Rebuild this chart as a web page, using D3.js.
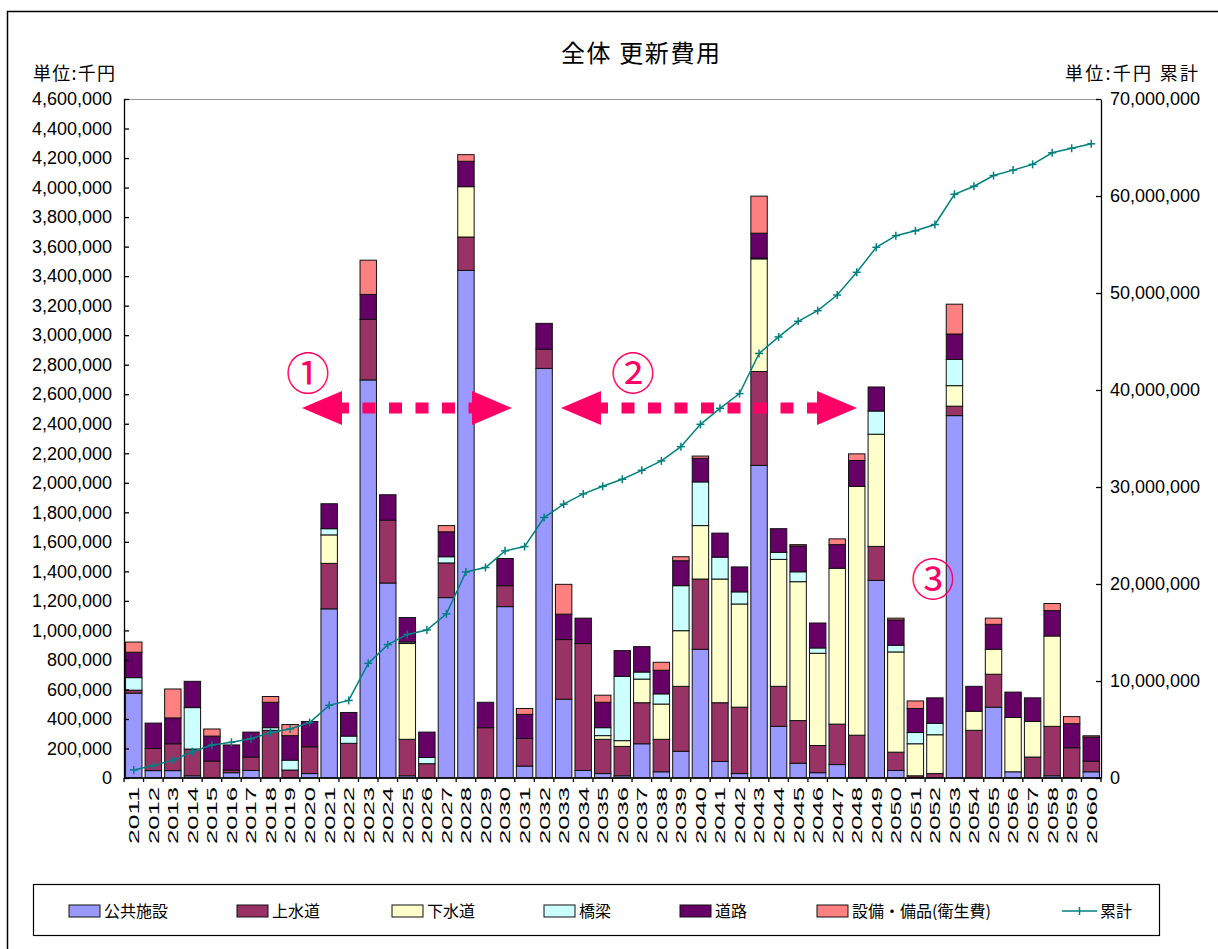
<!DOCTYPE html>
<html lang="ja">
<head>
<meta charset="utf-8">
<script src="https://cdn.jsdelivr.net/npm/d3@7"></script>
<style>
  html, body { margin: 0; padding: 0; background: #fff; }
  svg { display: block; }
  text { font-family: "Liberation Sans", "Noto Sans CJK JP", sans-serif; fill: #000; }
  .jp { font-family: "Noto Sans CJK JP", sans-serif; }
</style>
</head>
<body>
<svg id="chart" width="1218" height="949"></svg>
<script>
// 年度
const years = d3.range(2011, 2061).map(String);

// 分野別 更新費用（千円）
const koukyouShisetsu = [
  575000, 50000, 50000, 15000, 0, 36000, 51000, 0, 0, 30000,
  1146000, 0, 2697000, 1321000, 15000, 0, 1222000, 3439000, 0, 1161000,
  81000, 2775000, 534000, 51000, 30000, 15000, 232000, 42000, 181000, 872000,
  112000, 30000, 2118000, 350000, 100000, 36000, 91000, 0, 1339000, 51000,
  0, 0, 2455000, 0, 480000, 42000, 0, 15000, 0, 42000
];
const jousuidou = [
  20000, 150000, 182000, 181000, 115000, 18000, 91000, 323000, 54000, 181000,
  308000, 235000, 410000, 426000, 247000, 97000, 235000, 226000, 341000, 142000,
  187000, 130000, 404000, 860000, 232000, 199000, 278000, 220000, 440000, 476000,
  398000, 450000, 636000, 271000, 289000, 184000, 274000, 290000, 230000, 124000,
  15000, 30000, 64000, 323000, 223000, 0, 142000, 335000, 205000, 72000
];
const gesuidou = [
  0, 0, 0, 0, 0, 0, 0, 0, 0, 0,
  193000, 0, 0, 0, 649000, 0, 0, 341000, 0, 0,
  0, 0, 0, 0, 25000, 39000, 160000, 239000, 377000, 362000,
  838000, 699000, 763000, 860000, 941000, 625000, 1056000, 1686000, 760000, 679000,
  217000, 263000, 139000, 129000, 169000, 368000, 241000, 612000, 0, 0
];
const kyouryou = [
  85000, 0, 0, 281000, 0, 0, 0, 18000, 67000, 0,
  42000, 49000, 0, 0, 10000, 42000, 42000, 0, 0, 0,
  0, 0, 0, 0, 54000, 435000, 48000, 69000, 305000, 296000,
  148000, 82000, 5000, 48000, 67000, 36000, 0, 0, 157000, 45000,
  76000, 78000, 178000, 0, 0, 0, 0, 0, 0, 0
];
const douro = [
  172000, 172000, 175000, 178000, 169000, 170000, 169000, 172000, 166000, 172000,
  169000, 160000, 169000, 172000, 166000, 172000, 169000, 172000, 172000, 184000,
  163000, 175000, 172000, 172000, 172000, 175000, 172000, 160000, 169000, 160000,
  163000, 169000, 169000, 160000, 175000, 169000, 160000, 175000, 163000, 172000,
  163000, 172000, 172000, 169000, 169000, 172000, 160000, 172000, 163000, 163000
];
const setsubiBihin = [
  69000, 0, 196000, 0, 48000, 0, 0, 39000, 75000, 0,
  0, 0, 232000, 0, 0, 0, 42000, 45000, 0, 0,
  40000, 0, 202000, 0, 48000, 0, 0, 54000, 27000, 15000,
  0, 0, 251000, 0, 9000, 0, 39000, 45000, 0, 12000,
  51000, 0, 202000, 0, 42000, 0, 0, 48000, 48000, 9000
];

// 累計（千円）
const ruikei = [
  830000, 1290000, 1840000, 2710000, 3400000, 3680000, 4050000, 4690000, 5060000, 5720000,
  7490000, 8000000, 11820000, 13750000, 14800000, 15260000, 16920000, 21240000, 21700000, 23420000,
  23860000, 26850000, 28230000, 29290000, 30070000, 30800000, 31720000, 32690000, 34160000, 36460000,
  38110000, 39630000, 43770000, 45470000, 47080000, 48180000, 49790000, 52140000, 54710000, 55910000,
  56410000, 57060000, 60180000, 61010000, 62110000, 62670000, 63260000, 64460000, 64920000, 65380000
];

// 系列名と色
const seriesNames = ["公共施設", "上水道", "下水道", "橋梁", "道路", "設備・備品(衛生費)"];
const seriesColors = ["#9999FF", "#993366", "#FFFFCC", "#CCFFFF", "#660066", "#FF8080"];
const seriesValues = [koukyouShisetsu, jousuidou, gesuidou, kyouryou, douro, setsubiBihin];
const lineName = "累計";
const lineColor = "#008080";

// 軸目盛
const leftTicks = d3.range(0, 4600001, 200000);
const rightTicks = d3.range(0, 70000001, 10000000);

// 注記
const notes = [
  { label: "①", x: 308, y: 371 },
  { label: "②", x: 633, y: 371 },
  { label: "③", x: 933, y: 577 }
];
const arrows = [
  { x1: 302, x2: 512, y: 408 },
  { x1: 561, x2: 857, y: 408 }
];

const svg = d3.select("#chart");
const plot = { left: 124, right: 1101, top: 99, bottom: 778 };

// 外枠
svg.append("rect")
  .attr("x", 7.5).attr("y", 11.5).attr("width", 1300).attr("height", 1000)
  .attr("fill", "none").attr("stroke", "#000").attr("stroke-width", 1.5);

const x = d3.scaleBand().domain(years).range([plot.left, plot.right])
  .paddingInner(0.16).paddingOuter(0.08);
const y = d3.scaleLinear().domain([0, 4600000]).range([plot.bottom, plot.top]);
const y2 = d3.scaleLinear().domain([0, 70000000]).range([plot.bottom, plot.top]);

// 積み上げデータ
const table = years.map((yr, i) => {
  const row = { year: yr };
  seriesNames.forEach((n, k) => row[n] = seriesValues[k][i]);
  return row;
});
const stacked = d3.stack().keys(seriesNames)(table);

// 棒
const bars = svg.append("g");
stacked.forEach((layer, k) => {
  bars.append("g")
    .attr("fill", seriesColors[k])
    .selectAll("rect")
    .data(layer.filter(d => d[1] - d[0] > 0))
    .join("rect")
    .attr("x", d => x(d.data.year))
    .attr("width", x.bandwidth())
    .attr("y", d => y(d[1]))
    .attr("height", d => y(d[0]) - y(d[1]))
    .attr("stroke", "#111")
    .attr("stroke-width", 1);
});

// 上枠
svg.append("line")
  .attr("x1", plot.left).attr("x2", plot.right)
  .attr("y1", plot.top + 0.5).attr("y2", plot.top + 0.5)
  .attr("stroke", "#999").attr("stroke-width", 1);

// 左軸
const fmt = d3.format(",");
const gl = svg.append("g")
  .attr("transform", `translate(${plot.left},0)`)
  .call(d3.axisLeft(y).tickValues(leftTicks).tickFormat(fmt)
    .tickSizeInner(-5).tickSizeOuter(0).tickPadding(12));
gl.selectAll("text").attr("font-size", 18).attr("fill", "#000");
gl.selectAll("line, path").attr("stroke", "#000").attr("stroke-width", 1.3);

// 右軸
const gr = svg.append("g")
  .attr("transform", `translate(${plot.right},0)`)
  .call(d3.axisRight(y2).tickValues(rightTicks).tickFormat(fmt)
    .tickSizeInner(-5).tickSizeOuter(0).tickPadding(9));
gr.selectAll("text").attr("font-size", 18).attr("fill", "#000");
gr.selectAll("line, path").attr("stroke", "#000").attr("stroke-width", 1.3);

// 横軸
svg.append("line")
  .attr("x1", plot.left).attr("x2", plot.right)
  .attr("y1", plot.bottom).attr("y2", plot.bottom)
  .attr("stroke", "#000").attr("stroke-width", 1.5);
const step = x.step();
const bounds = years.map(yr => x(yr) - (step - x.bandwidth()) / 2).concat([plot.right]);
svg.append("g").selectAll("line").data(bounds).join("line")
  .attr("x1", d => d).attr("x2", d => d)
  .attr("y1", plot.bottom).attr("y2", plot.bottom + 4)
  .attr("stroke", "#000").attr("stroke-width", 1.3);

svg.append("g").selectAll("text").data(years).join("text")
  .attr("transform", d => `translate(${x(d) + x.bandwidth() / 2},787) rotate(-90)`)
  .attr("text-anchor", "end")
  .attr("dy", "0.36em")
  .attr("font-size", 15)
  .attr("textLength", 57)
  .attr("lengthAdjust", "spacingAndGlyphs")
  .text(d => d);

// 累計線
const cx = yr => x(yr) + x.bandwidth() / 2;
const cum = years.map((yr, i) => ({ year: yr, v: ruikei[i] }));
svg.append("path")
  .datum(cum)
  .attr("fill", "none")
  .attr("stroke", lineColor)
  .attr("stroke-width", 1.5)
  .attr("d", d3.line().x(d => cx(d.year)).y(d => y2(d.v)));
const plus = svg.append("g").attr("stroke", lineColor).attr("stroke-width", 1.5);
cum.forEach(d => {
  const px = cx(d.year), py = y2(d.v);
  plus.append("line").attr("x1", px - 4).attr("x2", px + 4).attr("y1", py).attr("y2", py);
  plus.append("line").attr("x1", px).attr("x2", px).attr("y1", py - 4).attr("y2", py + 4);
});

// 双方向矢印
const pink = "#FF0066";
arrows.forEach(a => {
  const head = 40, half = 17;
  svg.append("line")
    .attr("x1", a.x1 + head - 6).attr("x2", a.x2 - head)
    .attr("y1", a.y).attr("y2", a.y)
    .attr("stroke", pink).attr("stroke-width", 11)
    .attr("stroke-dasharray", "13 13.5");
  svg.append("path").attr("fill", pink)
    .attr("d", `M${a.x1},${a.y} L${a.x1 + head},${a.y - half} L${a.x1 + head},${a.y + half} Z`);
  svg.append("path").attr("fill", pink)
    .attr("d", `M${a.x2},${a.y} L${a.x2 - head},${a.y - half} L${a.x2 - head},${a.y + half} Z`);
});

// 丸数字
svg.append("g").selectAll("text").data(notes).join("text")
  .attr("class", "jp")
  .attr("x", d => d.x).attr("y", d => d.y)
  .attr("text-anchor", "middle")
  .attr("dominant-baseline", "central")
  .attr("font-size", 44)
  .attr("fill", pink)
  .style("fill", pink)
  .text(d => d.label);

// タイトル・単位
svg.append("text").attr("class", "jp")
  .attr("x", 561).attr("y", 62)
  .attr("font-size", 24)
  .attr("textLength", 159)
  .text("全体 更新費用");
svg.append("text").attr("class", "jp")
  .attr("x", 33).attr("y", 80).attr("font-size", 18)
  .attr("textLength", 82)
  .text("単位:千円");
svg.append("text").attr("class", "jp")
  .attr("x", 1065).attr("y", 80).attr("font-size", 18)
  .attr("textLength", 133)
  .text("単位:千円 累計");

// 凡例
const lg = svg.append("g");
lg.append("rect")
  .attr("x", 33.5).attr("y", 884.5).attr("width", 1126).attr("height", 51)
  .attr("fill", "#fff").attr("stroke", "#000").attr("stroke-width", 1.2);
const legendX = [69, 237, 392, 544, 680, 817];
seriesNames.forEach((n, k) => {
  lg.append("rect")
    .attr("x", legendX[k]).attr("y", 905).attr("width", 31).attr("height", 12)
    .attr("fill", seriesColors[k]).attr("stroke", "#111").attr("stroke-width", 1);
  lg.append("text").attr("class", "jp")
    .attr("x", legendX[k] + 35).attr("y", 917).attr("font-size", 16)
    .text(n);
});
lg.append("line").attr("x1", 1062).attr("x2", 1097).attr("y1", 911).attr("y2", 911)
  .attr("stroke", lineColor).attr("stroke-width", 1.5);
lg.append("line").attr("x1", 1079.5).attr("x2", 1079.5).attr("y1", 907).attr("y2", 915)
  .attr("stroke", lineColor).attr("stroke-width", 1.5);
lg.append("text").attr("class", "jp")
  .attr("x", 1100).attr("y", 917).attr("font-size", 16)
  .text(lineName);
</script>
</body>
</html>
